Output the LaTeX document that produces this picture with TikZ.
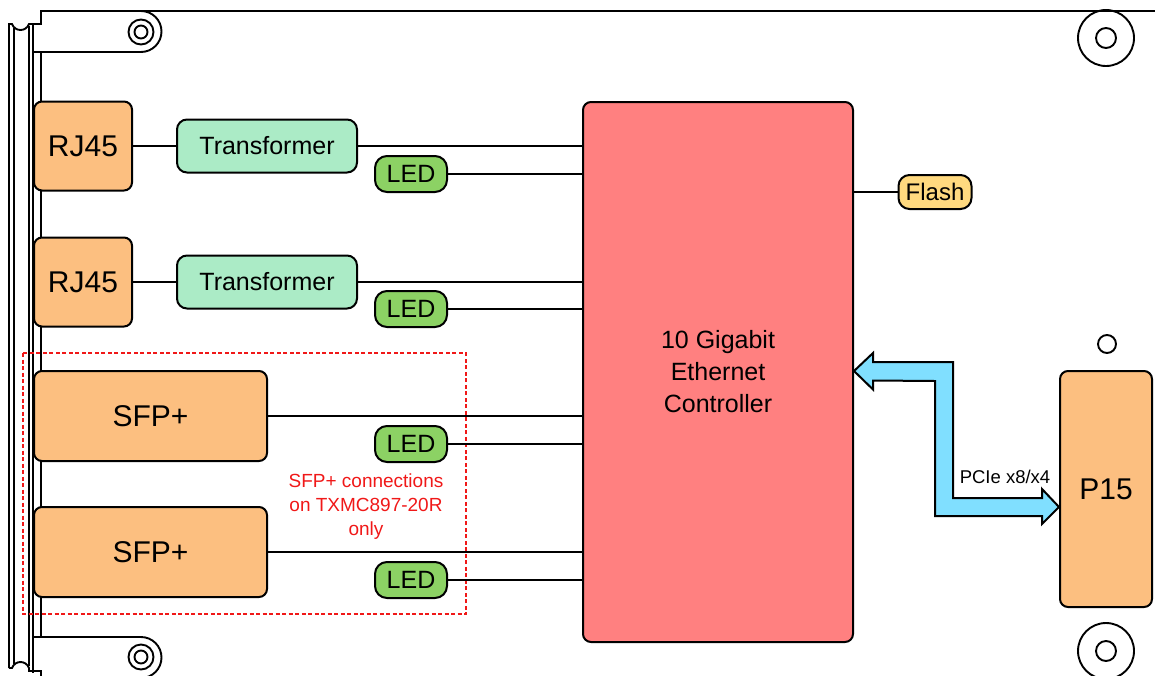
\documentclass[tikz,border=0pt]{standalone}
\usepackage{fontspec}
\setmainfont{Liberation Sans}
\usetikzlibrary{calc}
\definecolor{orangefill}{HTML}{FCBF80}
\definecolor{trfill}{HTML}{ABEBC6}
\definecolor{ledfill}{HTML}{8CD264}
\definecolor{ctrlfill}{HTML}{FF8080}
\definecolor{flashfill}{HTML}{FFD97F}
\definecolor{arrowfill}{HTML}{80DFFF}
\definecolor{notered}{HTML}{F01818}
\tikzset{
  blk/.style={draw=black, line width=2pt, rounded corners=8pt, inner sep=0pt, align=center},
  portbox/.style={blk, fill=orangefill, font=\fontsize{30}{36}\selectfont},
  trbox/.style={blk, fill=trfill, rounded corners=10pt, minimum width=180pt, minimum height=53pt, font=\fontsize{25}{30}\selectfont},
  ledbox/.style={blk, fill=ledfill, rounded corners=12pt, minimum width=72pt, minimum height=36pt, font=\fontsize{25}{30}\selectfont},
  conn/.style={line width=2.2pt},
  outline/.style={line width=1.9pt},
}
\begin{document}
\begin{tikzpicture}[x=1pt,y=-1pt]
\useasboundingbox (0,0) rectangle (1155,675);
% board outline and front bracket
\draw[outline] (9,668) -- (9,24) -- (12,24) .. controls (15,32) and (26,32) .. (29,24) -- (41,24) -- (41,11) -- (1160,11);
\draw[outline] (14,28) -- (14,664);
\draw[outline] (29,26) -- (29,666);
\draw[outline] (33,24) -- (33,673);
\draw[outline] (9,668) -- (12,668) .. controls (15,660) and (26,660) .. (29,668) -- (29,671) -- (41,671) -- (41,680);
\draw[outline] (41,52) -- (41,637);
\draw[outline] (33,52) -- (141,52) arc[start angle=90, end angle=-90, radius=20.5];
\draw[outline] (33,637) -- (141,637) arc[start angle=-90, end angle=90, radius=20.5];
\draw[outline] (141,32) circle[radius=12.5] (141,32) circle[radius=6.5];
\draw[outline] (141,657) circle[radius=12.5] (141,657) circle[radius=6.5];
\draw[outline] (1106,38) circle[radius=28] (1106,38) circle[radius=10];
\draw[outline] (1106,651) circle[radius=28] (1106,651) circle[radius=10];
\draw[outline] (1107,344) circle[radius=9];
% optional region
\draw[notered, line width=1.9pt, dash pattern=on 4pt off 2.5pt] (23,353) rectangle (466,614);
\node[text=notered, align=center, font=\fontsize{19}{24}\selectfont] (note) at (366,507) {SFP+ connections\\on TXMC897-20R\\only};
% nodes
\node[portbox, minimum width=98pt, minimum height=89pt] (rj1) at (83,146) {RJ45};
\node[portbox, minimum width=98pt, minimum height=89pt] (rj2) at (83,282) {RJ45};
\node[portbox, minimum width=233pt, minimum height=90pt] (sfp1) at (150.5,416) {SFP+};
\node[portbox, minimum width=233pt, minimum height=90pt] (sfp2) at (150.5,552) {SFP+};
\node[trbox] (tr1) at (267,146) {Transformer};
\node[trbox] (tr2) at (267,282) {Transformer};
\node[ledbox] (led1) at (411,174) {LED};
\node[ledbox] (led2) at (411,309) {LED};
\node[ledbox] (led3) at (411,444) {LED};
\node[ledbox] (led4) at (411,580) {LED};
\node[blk, fill=ctrlfill, minimum width=270pt, minimum height=540pt, font=\fontsize{25}{32}\selectfont] (ctrl) at (718,372) {10 Gigabit\\Ethernet\\Controller};
\node[blk, fill=flashfill, rounded corners=11pt, minimum width=73pt, minimum height=34pt, font=\fontsize{24}{29}\selectfont] (flash) at (935,192) {Flash};
\node[portbox, minimum width=92pt, minimum height=236pt] (p15) at (1106,489) {P15};
% connectors
\draw[conn] (rj1.east) -- (tr1.west);
\draw[conn] (rj2.east) -- (tr2.west);
\draw[conn] (tr1.east) -- (tr1.east -| ctrl.west);
\draw[conn] (tr2.east) -- (tr2.east -| ctrl.west);
\draw[conn] (led1.east) -- (led1.east -| ctrl.west);
\draw[conn] (led2.east) -- (led2.east -| ctrl.west);
\draw[conn] (led3.east) -- (led3.east -| ctrl.west);
\draw[conn] (led4.east) -- (led4.east -| ctrl.west);
\draw[conn] (sfp1.east) -- (sfp1.east -| ctrl.west);
\draw[conn] (sfp2.east) -- (sfp2.east -| ctrl.west);
\draw[conn] (flash.west -| ctrl.east) -- (flash.west);
% PCIe block arrow
\coordinate (pa) at (ctrl.east |- 0,371);
\coordinate (pb) at (p15.west |- 0,507);
\draw[line width=2pt, fill=arrowfill, line join=miter]
  (pa) -- ++(19,-18) -- ++(0,9) -- (953,362) -- (953,498) -- ($(pb)+(-17,-9)$) -- ++(0,-9) -- (pb) -- ++(-17,17) -- ++(0,-8) -- (935,516) -- (935,381) -- ($(pa)+(19,9.5)$) -- ++(0,9) -- cycle;
\node[font=\fontsize{18.5}{22}\selectfont] (pcie) at (1005,477) {PCIe x8/x4};
\end{tikzpicture}
\end{document}
